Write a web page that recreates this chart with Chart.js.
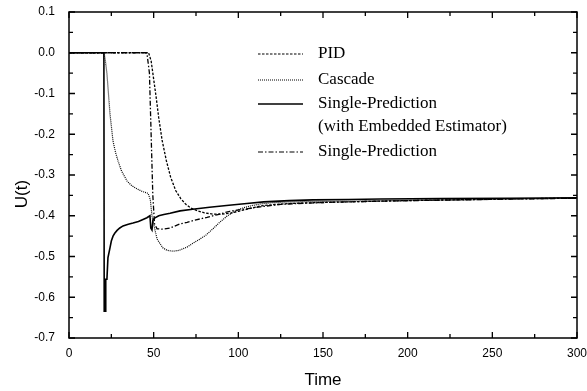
<!DOCTYPE html>
<html>
<head>
<meta charset="utf-8">
<script src="https://cdn.jsdelivr.net/npm/chart.js@4/dist/chart.umd.min.js"></script>
<style>
  html, body { margin: 0; padding: 0; background: #fff; }
  #wrap { width: 587px; height: 391px; }
</style>
</head>
<body>
<div id="wrap"><canvas id="uChart" width="587" height="391"></canvas></div>
<script>
// Données
const pidTime = [0, 47, 48.5, 50, 51.5, 53, 55, 57.5, 60, 63, 66, 69, 72, 76, 80, 85, 90, 95, 100, 106, 113, 120, 130, 145, 165, 185, 210, 240, 270, 300];
const pidU = [0, 0, -0.02, -0.065, -0.11, -0.16, -0.215, -0.265, -0.305, -0.338, -0.358, -0.372, -0.381, -0.388, -0.393, -0.396, -0.396, -0.394, -0.389, -0.383, -0.376, -0.373, -0.370, -0.368, -0.366, -0.364, -0.362, -0.360, -0.358, -0.357];

const cascadeTime = [0, 20.7, 21.5, 22.4, 23.3, 24.2, 25, 26, 27.5, 29, 31, 34.3, 37, 40.2, 43, 46.7, 48, 49, 50.5, 52, 54, 55.5, 58, 61.4, 65, 69.7, 73, 77, 81, 85, 89, 93, 97, 101, 107, 113, 120, 130, 145, 165, 190, 220, 250, 280, 300];
const cascadeU = [0, 0, -0.02, -0.051, -0.1, -0.15, -0.18, -0.217, -0.245, -0.266, -0.29, -0.315, -0.326, -0.334, -0.34, -0.345, -0.36, -0.40, -0.43, -0.457, -0.47, -0.479, -0.485, -0.487, -0.485, -0.477, -0.468, -0.458, -0.447, -0.432, -0.416, -0.402, -0.391, -0.383, -0.376, -0.371, -0.368, -0.366, -0.365, -0.364, -0.363, -0.362, -0.36, -0.358, -0.357];

const spEstTime = [0, 20.6, 20.8, 21.5, 21.7, 22.4, 23, 24.2, 25, 26, 27, 28.4, 30, 31.9, 35, 37.8, 41, 43.7, 46, 47.8, 48.3, 49, 49.6, 50.8, 53, 56, 59.7, 65.6, 73, 83, 93, 105, 115, 130, 144, 165, 184, 220, 260, 300];
const spEstU = [0, 0, -0.634, -0.634, -0.556, -0.556, -0.503, -0.479, -0.462, -0.45, -0.443, -0.436, -0.43, -0.425, -0.421, -0.418, -0.414, -0.409, -0.405, -0.40, -0.43, -0.435, -0.41, -0.405, -0.40, -0.397, -0.394, -0.388, -0.384, -0.379, -0.375, -0.37, -0.366, -0.363, -0.361, -0.36, -0.359, -0.358, -0.357, -0.356];

const spTime = [0, 46, 47.5, 48.5, 49.5, 50.5, 52, 55.5, 59.7, 65.6, 69.7, 75, 81.5, 88, 95, 105, 113, 125, 140, 154, 175, 200, 230, 260, 300];
const spU = [0, 0, -0.05, -0.2, -0.35, -0.42, -0.432, -0.433, -0.43, -0.42, -0.416, -0.41, -0.404, -0.397, -0.389, -0.383, -0.378, -0.372, -0.369, -0.367, -0.365, -0.363, -0.361, -0.359, -0.357];

const legendLabels = ['PID', 'Cascade', 'Single-Prediction', '(with Embedded Estimator)', 'Single-Prediction'];

function toPoints(xs, ys) {
    return xs.map((x, i) => ({ x: x, y: ys[i] }));
}

const dashPID = [2.5, 1.5];
const dashCascade = [1, 1];
const dashSP = [5, 2, 1.5, 2];

// Cadre, graduations intérieures, titre Y et légende
const framePlugin = {
    id: 'frame',
    afterDraw(chart) {
        const ctx = chart.ctx;
        const a = chart.chartArea;
        const xs = chart.scales.x, ys = chart.scales.y;
        ctx.save();
        ctx.strokeStyle = '#000';
        ctx.lineWidth = 1.5;
        ctx.setLineDash([]);
        ctx.strokeRect(a.left, a.top, a.right - a.left, a.bottom - a.top);

        ctx.lineWidth = 1.3;
        ctx.beginPath();
        for (let v = 0; v <= 300; v += 25) {
            const p = xs.getPixelForValue(v);
            const len = (v % 50 === 0) ? 6 : 4;
            ctx.moveTo(p, a.bottom); ctx.lineTo(p, a.bottom - len);
            ctx.moveTo(p, a.top); ctx.lineTo(p, a.top + len);
        }
        for (let k = 0; k <= 16; k++) {
            const v = -0.7 + k * 0.05;
            const p = ys.getPixelForValue(v);
            const len = (k % 2 === 0) ? 6 : 4;
            ctx.moveTo(a.left, p); ctx.lineTo(a.left + len, p);
            ctx.moveTo(a.right, p); ctx.lineTo(a.right - len, p);
        }
        ctx.stroke();

        // titre de l'axe Y
        ctx.fillStyle = '#000';
        ctx.font = '17px "Liberation Sans", Arial, sans-serif';
        ctx.textAlign = 'center';
        ctx.textBaseline = 'middle';
        ctx.translate(22, 194);
        ctx.rotate(-Math.PI / 2);
        ctx.fillText('U(t)', 0, 0);
        ctx.restore();

        // légende
        ctx.save();
        ctx.strokeStyle = '#000';
        ctx.fillStyle = '#000';
        ctx.font = '17px "Liberation Serif", "Times New Roman", serif';
        ctx.textBaseline = 'middle';
        ctx.textAlign = 'left';
        const rows = [54, 80, 104, 127, 152];
        const styles = [
            { dash: dashPID, w: 1.2 },
            { dash: dashCascade, w: 1.2 },
            { dash: [], w: 1.5 },
            null,
            { dash: dashSP, w: 1.2 }
        ];
        rows.forEach((y, i) => {
            const s = styles[i];
            if (s) {
                ctx.lineWidth = s.w;
                ctx.setLineDash(s.dash);
                ctx.beginPath();
                ctx.moveTo(258, y);
                ctx.lineTo(303, y);
                ctx.stroke();
            }
            ctx.fillText(legendLabels[i], 318, y);
        });
        ctx.restore();
    }
};

const tickFont = { family: '"Liberation Sans", Arial, sans-serif', size: 12 };

new Chart(document.getElementById('uChart').getContext('2d'), {
    type: 'line',
    data: {
        datasets: [
            { label: 'PID', data: toPoints(pidTime, pidU), borderColor: '#000', borderWidth: 1.3, borderDash: dashPID, pointRadius: 0, fill: false, tension: 0 },
            { label: 'Cascade', data: toPoints(cascadeTime, cascadeU), borderColor: '#000', borderWidth: 1.2, borderDash: dashCascade, pointRadius: 0, fill: false, tension: 0 },
            { label: 'Single-Prediction (with Embedded Estimator)', data: toPoints(spEstTime, spEstU), borderColor: '#000', borderWidth: 1.6, pointRadius: 0, fill: false, tension: 0 },
            { label: 'Single-Prediction', data: toPoints(spTime, spU), borderColor: '#000', borderWidth: 1.3, borderDash: dashSP, pointRadius: 0, fill: false, tension: 0 }
        ]
    },
    options: {
        responsive: false,
        animation: false,
        devicePixelRatio: 1,
        layout: { padding: { left: 0, right: 10, top: 12, bottom: 0 } },
        plugins: {
            legend: { display: false },
            tooltip: { enabled: false }
        },
        scales: {
            x: {
                type: 'linear',
                min: 0,
                max: 300,
                grid: { display: false, drawTicks: false },
                border: { display: false },
                ticks: { stepSize: 50, color: '#000', font: tickFont, padding: 8, maxRotation: 0 },
                title: { display: true, text: 'Time', color: '#000', font: { family: '"Liberation Sans", Arial, sans-serif', size: 17 }, padding: { top: 8, bottom: 0 } },
                afterFit(scale) { scale.height = 53; scale.paddingLeft = 0; scale.paddingRight = 0; }
            },
            y: {
                type: 'linear',
                min: -0.7,
                max: 0.1,
                grid: { display: false, drawTicks: false },
                border: { display: false },
                ticks: {
                    stepSize: 0.1, color: '#000', font: tickFont, padding: 14,
                    callback: (v) => v.toFixed(1)
                },
                afterFit(scale) { scale.width = 69; scale.paddingTop = 0; scale.paddingBottom = 0; }
            }
        }
    },
    plugins: [framePlugin]
});
</script>
</body>
</html>
